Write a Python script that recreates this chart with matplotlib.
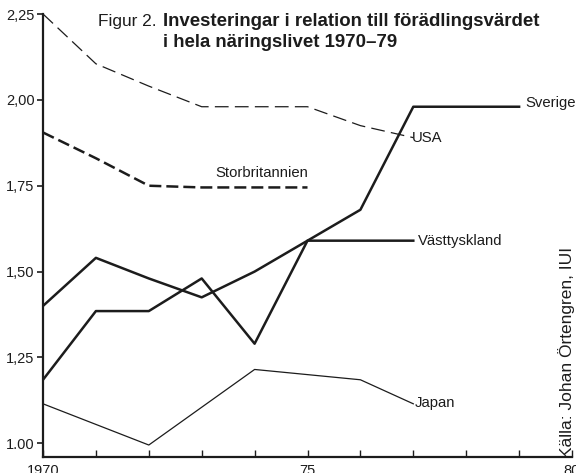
import matplotlib
matplotlib.use('Agg')
import matplotlib.pyplot as plt

plt.rcParams['font.family'] = ['Liberation Sans', 'DejaVu Sans']

# Data
years = [1970, 1971, 1972, 1973, 1974, 1975, 1976, 1977, 1978, 1979]
sverige = [1.40, 1.54, 1.48, 1.425, 1.50, 1.59, 1.68, 1.98, 1.98, 1.98]
usa = [2.25, 2.105, 2.04, 1.98, 1.98, 1.98, 1.925, 1.89]
storbritannien = [1.905, 1.83, 1.75, 1.745, 1.745, 1.745]
vasttyskland = [1.185, 1.385, 1.385, 1.48, 1.29, 1.59, 1.59, 1.59]
japan = [1.115, 1.055, 0.995, 1.105, 1.215, 1.20, 1.185, 1.115]

ytick_vals = [1.00, 1.25, 1.50, 1.75, 2.00, 2.25]
ytick_labels = ['1.00', '1,25', '1,50', '1,75', '2,00', '2,25']
xtick_labels = {1970: '1970', 1975: '75', 1980: '80'}

ink = '#1c1c1c'

fig = plt.figure(figsize=(5.76, 4.73), dpi=100)
ax = fig.add_axes([43 / 576, (473 - 456.7) / 473, (572 - 43) / 576, (456.7 - 14) / 473])

ax.plot(years[:len(usa)], usa, color=ink, lw=0.9, linestyle=(0, (11, 5)), clip_on=False)
ax.plot(years[:len(storbritannien)], storbritannien, color=ink, lw=1.8, linestyle=(0, (4.8, 2)))
ax.plot(years, sverige, color=ink, lw=1.8)
ax.plot(years[:len(vasttyskland)], vasttyskland, color=ink, lw=1.8)
ax.plot(years[:len(japan)], japan, color=ink, lw=0.9)

ax.set_xlim(1970, 1980)
ax.set_ylim(0.961, 2.25)

for s in ['top', 'right']:
    ax.spines[s].set_visible(False)
for s in ['left', 'bottom']:
    ax.spines[s].set_linewidth(1.6)
    ax.spines[s].set_color(ink)

ax.set_yticks(ytick_vals)
ax.set_yticklabels(ytick_labels, fontsize=10.5, color=ink)
ax.tick_params(axis='y', direction='out', length=4, width=1.2, pad=2, colors=ink)

ax.set_xticks(range(1970, 1981))
ax.set_xticklabels([xtick_labels.get(y, '') for y in range(1970, 1981)], fontsize=10.5)
ax.tick_params(axis='x', direction='in', length=5, width=1.0, pad=5, colors=ink)

# Series labels
lab = dict(fontsize=10.7, color=ink, va='center', ha='left')
ax.text(1979.11, 1.991, 'Sverige', **lab)
ax.text(1976.98, 1.889, 'USA', **lab)
ax.text(1973.25, 1.787, 'Storbritannien', **lab)
ax.text(1977.09, 1.589, 'Västtyskland', **lab)
ax.text(1977.03, 1.117, 'Japan', **lab)

# Title
fig.text(157 / 576, 1 - 26 / 473, 'Figur 2.', fontsize=12.4, ha='right', va='baseline', color=ink)
fig.text(163 / 576, 1 - 26 / 473, 'Investeringar i relation till förädlingsvärdet',
         fontsize=13.4, fontweight='bold', ha='left', va='baseline', color=ink)
fig.text(163 / 576, 1 - 47 / 473, 'i hela näringslivet 1970–79',
         fontsize=13.4, fontweight='bold', ha='left', va='baseline', color=ink)

# Source
fig.text(567 / 576, 1 - 352 / 473, 'Källa: Johan Örtengren, IUI', fontsize=12.5,
         rotation=90, ha='center', va='center', color=ink)

fig.savefig('out.png', dpi=100)
